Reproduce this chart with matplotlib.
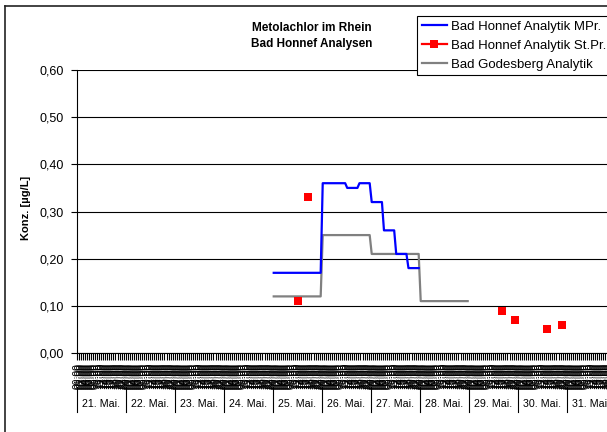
import numpy as np
import matplotlib
matplotlib.use("Agg")
import matplotlib.pyplot as plt
from matplotlib.lines import Line2D
from matplotlib.transforms import blended_transform_factory

plt.rcParams['font.family'] = ['Liberation Sans', 'DejaVu Sans']

# ---------------- data ----------------
days = ["21. Mai.", "22. Mai.", "23. Mai.", "24. Mai.", "25. Mai.", "26. Mai.",
        "27. Mai.", "28. Mai.", "29. Mai.", "30. Mai.", "31. Mai."]
hour_labels = ["00:00", "01:00", "02:00", "03:00", "04:00", "05:00", "06:00", "07:00",
               "08:00", "09:00", "10:00", "11:00", "12:00", "13:00", "14:00", "15:00",
               "16:00", "17:00", "18:00", "19:00", "20:00", "21:00", "22:00", "23:00"]

# hours counted from 21. Mai 00:00 (category index)
mpr_hours = [96, 119, 120, 131, 132, 137, 138, 143, 144, 149, 150, 155, 156, 161, 162, 167]
mpr_values = [0.17, 0.17, 0.36, 0.36, 0.35, 0.35, 0.36, 0.36, 0.32, 0.32, 0.26, 0.26,
              0.21, 0.21, 0.18, 0.18]

stpr_hours = [108, 113, 208, 214, 230, 237]
stpr_values = [0.11, 0.33, 0.09, 0.07, 0.05, 0.06]

godesberg_hours = [96, 119, 120, 143, 144, 167, 168, 191]
godesberg_values = [0.12, 0.12, 0.25, 0.25, 0.21, 0.21, 0.11, 0.11]

y_ticks = [0.0, 0.1, 0.2, 0.3, 0.4, 0.5, 0.6]
y_tick_labels = ["0,00", "0,10", "0,20", "0,30", "0,40", "0,50", "0,60"]

series_names = ["Bad Honnef Analytik MPr.", "Bad Honnef Analytik St.Pr.",
                "Bad Godesberg Analytik"]
title_lines = ["Metolachlor im Rhein", "Bad Honnef Analysen"]
y_label = "Konz. [µg/L]"

# ---------------- layout ----------------
W, H = 607, 432
fig = plt.figure(figsize=(W / 100, H / 100), dpi=100)


def fx(px):
    return px / W


def fy(py):
    return 1 - py / H


ncat = len(days) * 24
ax = fig.add_axes([fx(76.7), fy(353), 539 / W, 283 / H])
ax.set_xlim(0, ncat)
ax.set_ylim(0, 0.6)

# grid
ax.set_yticks(y_ticks)
ax.set_yticklabels(y_tick_labels, fontsize=9)
ax.yaxis.grid(True, color='black', lw=0.8, zorder=0)
ax.set_axisbelow(True)
ax.tick_params(axis='y', direction='out', length=4, width=0.8, pad=5)

for s in ['top', 'right']:
    ax.spines[s].set_visible(False)
for s in ['left', 'bottom']:
    ax.spines[s].set_color('black')
    ax.spines[s].set_linewidth(0.8)

# x ticks: category boundaries + hour labels
ax.set_xticks(np.arange(0, ncat + 1))
ax.set_xticklabels([])
ax.tick_params(axis='x', which='major', direction='out', length=5, width=0.8)
minor_pos = np.arange(ncat) + 0.5
ax.set_xticks(minor_pos, minor=True)
ax.set_xticklabels([hour_labels[i % 24] for i in range(ncat)], minor=True,
                   rotation=90, fontsize=7.5)
ax.tick_params(axis='x', which='minor', length=0, pad=7)

# series
ax.plot(np.array(mpr_hours) + 0.5, mpr_values, color='#0000FF', lw=1.6, zorder=4)
ax.plot(np.array(godesberg_hours) + 0.5, godesberg_values, color='#808080', lw=1.6, zorder=3)
ax.plot(np.array(stpr_hours) + 0.5, stpr_values, linestyle='none', marker='s',
        markersize=6, color='#FF0000', markeredgewidth=0, zorder=5)

# day labels (second category level)
blend = blended_transform_factory(ax.transData, ax.transAxes)
for i, lbl in enumerate(days):
    ax.text(i * 24 + 12, (353 - 404) / 283, lbl, transform=blend, ha='center',
            va='center', fontsize=7.7, clip_on=False)
for d in range(len(days) + 1):
    ax.plot([d * 24, d * 24], [(353 - 387) / 283, (353 - 412) / 283],
            transform=blend, color='black', lw=0.8, clip_on=False)

# title
fig.text(fx(312), fy(28), title_lines[0], ha='center', va='center',
         fontsize=8.5, fontweight='bold')
fig.text(fx(312), fy(44), title_lines[1], ha='center', va='center',
         fontsize=8.5, fontweight='bold')

# y label
fig.text(fx(26), fy(208), y_label, rotation=90, ha='center', va='center',
         fontsize=8, fontweight='bold')

# legend
handles = [Line2D([], [], color='#0000FF', lw=1.6),
           Line2D([], [], color='#FF0000', lw=1.6, marker='s', markersize=6,
                  markeredgewidth=0),
           Line2D([], [], color='#808080', lw=1.6)]
leg = fig.legend(handles, series_names, loc='upper left',
                 bbox_to_anchor=(fx(417.3), fy(16)), bbox_transform=fig.transFigure,
                 fontsize=9.5, frameon=True, fancybox=False, framealpha=1,
                 edgecolor='black', borderpad=0.35, labelspacing=0.5,
                 handlelength=1.9, handletextpad=0.3, borderaxespad=0)
leg.get_frame().set_linewidth(0.8)

# chart area border (cropped at right/bottom)
fig.add_artist(Line2D([fx(4.5), fx(4.5)], [fy(6), fy(432)], transform=fig.transFigure,
                      color='#222222', lw=1.2))
fig.add_artist(Line2D([fx(4.5), fx(607)], [fy(6), fy(6)], transform=fig.transFigure,
                      color='#222222', lw=1.2))

fig.savefig('out.png', dpi=100)
